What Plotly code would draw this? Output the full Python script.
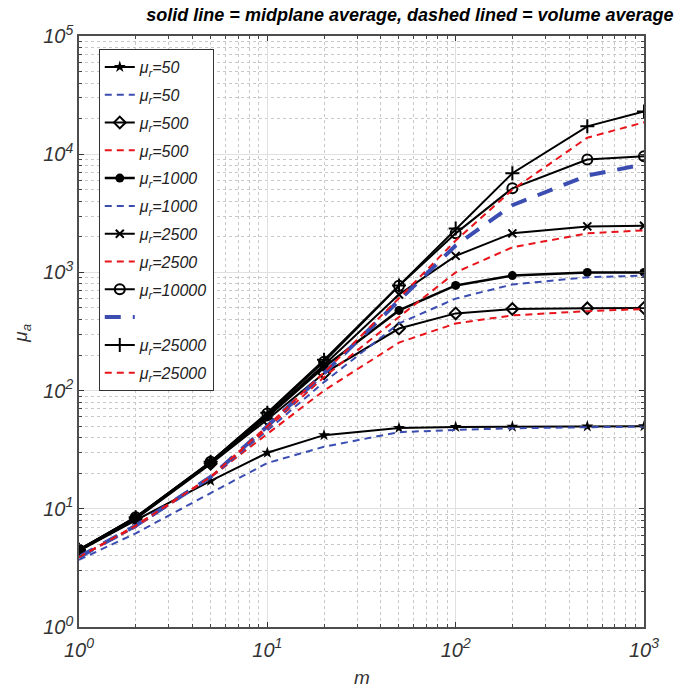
import plotly.graph_objects as go

m = [1, 2, 5, 10, 20, 50, 100, 200, 500, 1000]

mid_50 = [4.4, 8.0, 17.2, 29.8, 42, 48.3, 49.3, 49.6, 49.8, 50]
vol_50 = [3.7, 6.2, 13.6, 24.4, 33.5, 44.5, 46.5, 48, 49, 49.5]
mid_500 = [4.4, 8.2, 24, 57, 140, 335, 450, 490, 497, 500]
vol_500 = [3.9, 7.0, 18.5, 43, 100, 255, 370, 433, 470, 490]
mid_1000 = [4.5, 8.4, 24.5, 60, 158, 477, 776, 940, 1000, 1000]
vol_1000 = [3.9, 7.1, 18.5, 46, 118, 370, 600, 790, 910, 940]
mid_2500 = [4.5, 8.4, 24.5, 62, 165, 650, 1380, 2140, 2450, 2480]
vol_2500 = [3.9, 7.2, 18.6, 48, 130, 420, 1000, 1630, 2140, 2270]
mid_10000 = [4.5, 8.5, 25, 64, 175, 770, 2140, 5150, 9000, 9600]
vol_10000 = [3.9, 7.2, 18.6, 50, 140, 585, 1690, 3700, 6600, 8200]
mid_25000 = [4.5, 8.5, 25, 65, 182, 776, 2350, 6900, 17200, 23000]
vol_25000 = [3.9, 7.2, 18.6, 50, 142, 605, 1860, 5000, 13800, 18600]

names = ["μ<sub>r</sub>=50", "μ<sub>r</sub>=50", "μ<sub>r</sub>=500", "μ<sub>r</sub>=500",
         "μ<sub>r</sub>=1000", "μ<sub>r</sub>=1000", "μ<sub>r</sub>=2500", "μ<sub>r</sub>=2500",
         "μ<sub>r</sub>=10000", " ", "μ<sub>r</sub>=25000", "μ<sub>r</sub>=25000"]

x_ticks = [1, 10, 100, 1000]
x_ticktext = ["10<sup>0</sup>", "10<sup>1</sup>", "10<sup>2</sup>", "10<sup>3</sup>"]
y_ticks = [1, 10, 100, 1000, 10000, 100000]
y_ticktext = ["10<sup>0</sup>", "10<sup>1</sup>", "10<sup>2</sup>", "10<sup>3</sup>", "10<sup>4</sup>", "10<sup>5</sup>"]

BLUE = "#3B4DB0"
RED = "#E8141A"
FONT = "Liberation Sans"

series = [
    (mid_50, dict(color="black", width=2), dict(symbol="star", size=9, color="black")),
    (vol_50, dict(color=BLUE, width=2, dash="7px,5px"), None),
    (mid_500, dict(color="black", width=2), dict(symbol="diamond-open", size=9, color="black", line=dict(width=2, color="black"))),
    (vol_500, dict(color=RED, width=2, dash="7px,5px"), None),
    (mid_1000, dict(color="black", width=2.5), dict(symbol="circle", size=9, color="black")),
    (vol_1000, dict(color=BLUE, width=2, dash="7px,5px"), None),
    (mid_2500, dict(color="black", width=2), dict(symbol="x-thin-open", size=8, color="black", line=dict(width=2, color="black"))),
    (vol_2500, dict(color=RED, width=2, dash="7px,5px"), None),
    (mid_10000, dict(color="black", width=2), dict(symbol="circle-open", size=10, color="black", line=dict(width=2, color="black"))),
    (vol_10000, dict(color=BLUE, width=4, dash="16px,12px"), None),
    (mid_25000, dict(color="black", width=2), dict(symbol="cross-thin-open", size=10, color="black", line=dict(width=2, color="black"))),
    (vol_25000, dict(color=RED, width=2, dash="7px,5px"), None),
]

fig = go.Figure()
for i, (vals, line, marker) in enumerate(series):
    fig.add_trace(go.Scatter(
        x=m, y=vals, name=names[i], legendgroup=f"g{i}",
        mode="lines+markers" if marker else "lines",
        line=line, marker=marker if marker else None,
    ))


def minor_vals(ndec):
    return [k * 10 ** d for d in range(ndec) for k in range(2, 10)]


tickfont = dict(family=FONT, size=20, color="#333333", style="italic")
axis_common = dict(
    type="log", showline=True, linecolor="#4d4d4d", linewidth=1.5, mirror="allticks",
    ticks="inside", ticklen=5, tickcolor="#333333", tickwidth=1.2,
    showgrid=True, gridcolor="#e0e0e0", gridwidth=1.2,
    tickfont=tickfont, zeroline=False, automargin=False,
)

fig.update_xaxes(
    **axis_common, range=[0, 3],
    tickmode="array", tickvals=x_ticks, ticktext=x_ticktext, ticklabelstandoff=4,
    minor=dict(tickmode="array", tickvals=minor_vals(3), showgrid=True, gridcolor="#c8c8c8",
               griddash="dot", gridwidth=1, ticks="inside", ticklen=3, tickcolor="#444444"),
)
fig.update_yaxes(
    **axis_common, range=[0, 5],
    tickmode="array", tickvals=y_ticks, ticktext=y_ticktext,
    minor=dict(tickmode="array", tickvals=minor_vals(5), showgrid=True, gridcolor="#c8c8c8",
               griddash="dot", gridwidth=1, ticks="inside", ticklen=3, tickcolor="#444444"),
)

fig.add_annotation(text="m", xref="paper", yref="paper", x=0.5, y=-0.085, yanchor="middle",
                   showarrow=False, font=dict(family=FONT, size=19, color="#333333", style="italic"))
fig.add_annotation(text="μ<sub>a</sub>", xref="paper", yref="paper", x=-0.1, y=0.497,
                   xanchor="center", yanchor="middle", textangle=-90,
                   showarrow=False, font=dict(family=FONT, size=19, color="#333333", style="italic"))

fig.update_layout(
    width=681, height=690,
    margin=dict(l=79, r=37, t=36, b=63),
    paper_bgcolor="white", plot_bgcolor="white",
    title=dict(text="solid line = midplane average, dashed lined = volume average",
               font=dict(family=FONT, size=18, color="black", style="italic", weight="bold"),
               x=0.602, xanchor="center", y=0.988, yanchor="top"),
    legend=dict(x=0.035, y=0.978, xanchor="left", yanchor="top",
                bordercolor="#333333", borderwidth=1, bgcolor="white",
                font=dict(family=FONT, size=16, color="#222222", style="italic"),
                traceorder="grouped", tracegroupgap=4, itemwidth=30),
    showlegend=True,
)

fig.write_html("out.html")
